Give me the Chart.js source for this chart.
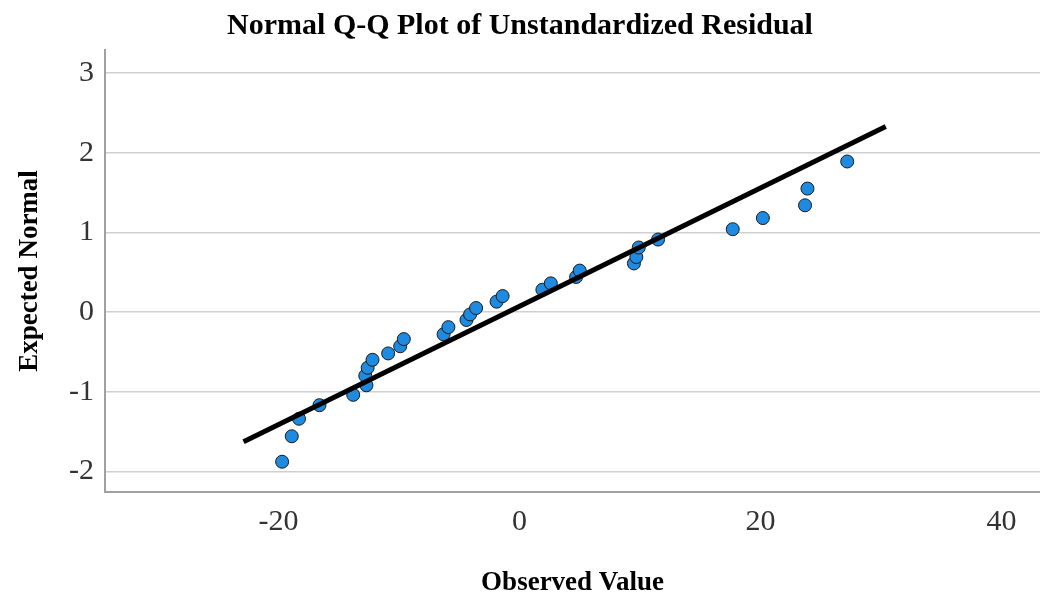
<!DOCTYPE html>
<html>

<head>
    <title>Normal Q-Q Plot</title>
    <script src="https://cdn.jsdelivr.net/npm/chart.js"></script>
    <style>
        body { margin: 0; background: #fff; }
    </style>
</head>

<body>
<canvas id="qqChart" width="1040" height="599"></canvas>
<script>
    // observed residuals and their expected normal values
    var observed = [-19.7, -18.9, -18.3, -16.6, -13.8, -12.7, -12.8, -12.6, -12.2, -10.9, -9.9, -9.6,
        -6.3, -5.9, -4.4, -4.1, -3.6, -1.9, -1.4, 1.9, 2.6, 4.7, 5.0,
        9.5, 9.7, 9.9, 11.5, 17.7, 20.2, 23.7, 23.9, 27.2];
    var expected = [-1.88, -1.56, -1.34, -1.17, -1.04, -0.92, -0.80, -0.70, -0.60, -0.52, -0.43, -0.34,
        -0.28, -0.19, -0.10, -0.03, 0.05, 0.13, 0.20, 0.28, 0.36, 0.44, 0.52,
        0.61, 0.69, 0.81, 0.91, 1.04, 1.18, 1.34, 1.55, 1.89];

    // reference line end points
    var lineX = [-22.9, 30.4];
    var lineY = [-1.63, 2.33];

    var xTicks = [-20, 0, 20, 40];
    var yTicks = [-2, -1, 0, 1, 2, 3];

    var serif = "'Liberation Serif', 'Times New Roman', serif";

    var points = observed.map(function (v, i) {
        return { x: v, y: expected[i] };
    });
    var linePoints = lineX.map(function (v, i) {
        return { x: v, y: lineY[i] };
    });

    var ctx = document.getElementById('qqChart').getContext('2d');
    var chart = new Chart(ctx, {
        type: 'scatter',
        data: {
            datasets: [{
                label: 'Line',
                data: linePoints,
                showLine: true,
                borderColor: '#000',
                borderWidth: 5,
                pointRadius: 0,
                fill: false
            }, {
                label: 'Residual',
                data: points,
                backgroundColor: '#1e8ae0',
                borderColor: '#1a1a1a',
                borderWidth: 1,
                pointRadius: 6.5
            }]
        },
        options: {
            responsive: false,
            animation: false,
            layout: { padding: 0, autoPadding: false },
            plugins: {
                legend: { display: false },
                tooltip: { enabled: false },
                title: {
                    display: true,
                    text: 'Normal Q-Q Plot of Unstandardized Residual',
                    color: '#000',
                    font: { family: serif, size: 30, weight: 'bold' },
                    padding: { top: 8, bottom: 6 }
                }
            },
            scales: {
                x: {
                    min: -34.4,
                    max: 43.2,
                    afterBuildTicks: function (scale) {
                        scale.ticks = xTicks.map(function (v) { return { value: v }; });
                    },
                    afterFit: function (scale) {
                        scale.height = 107;
                    },
                    grid: { display: false, drawTicks: false },
                    border: { display: true, color: '#a0a0a0', width: 2 },
                    ticks: {
                        color: '#333',
                        padding: 12,
                        maxRotation: 0,
                        font: { family: serif, size: 30 }
                    },
                    title: {
                        display: true,
                        text: 'Observed Value',
                        color: '#000',
                        font: { family: serif, size: 27, weight: 'bold' },
                        padding: { top: 0, bottom: 0 }
                    }
                },
                y: {
                    min: -2.26,
                    max: 3.29,
                    afterBuildTicks: function (scale) {
                        scale.ticks = yTicks.map(function (v) { return { value: v }; });
                    },
                    afterFit: function (scale) {
                        scale.width = 105;
                    },
                    grid: { color: '#d0d0d0', lineWidth: 1.5, drawTicks: false },
                    border: { display: true, color: '#a0a0a0', width: 2 },
                    ticks: {
                        color: '#333',
                        padding: 11,
                        font: { family: serif, size: 30 }
                    },
                    title: {
                        display: true,
                        text: 'Expected Normal',
                        color: '#000',
                        font: { family: serif, size: 27, weight: 'bold' },
                        padding: { top: 14, bottom: 0 }
                    }
                }
            }
        }
    });
</script>
</body>

</html>
